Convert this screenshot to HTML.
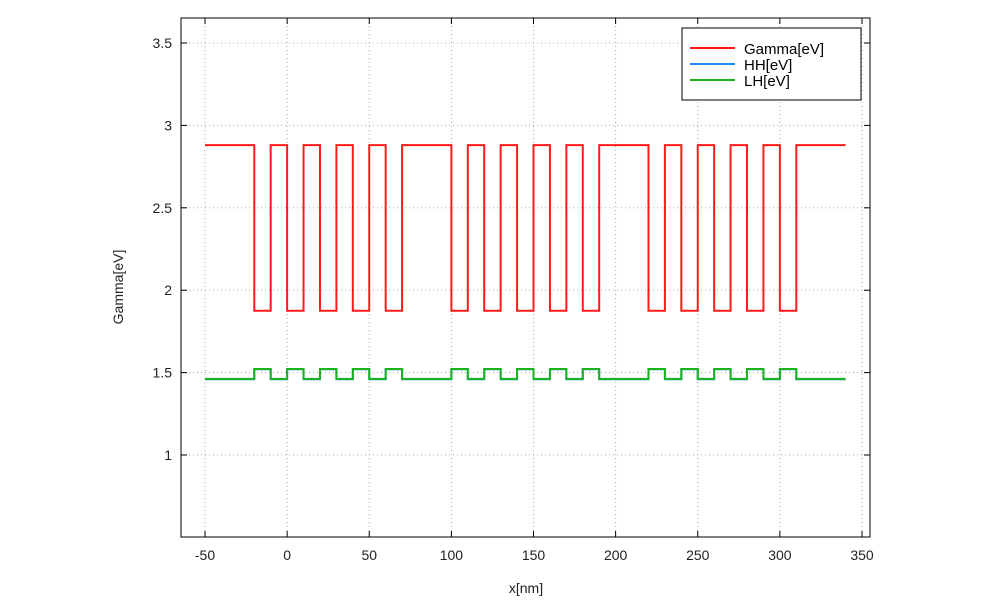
<!DOCTYPE html>
<html><head><meta charset="utf-8"><style>body{margin:0;background:#fff}svg text{font-family:"Liberation Sans",sans-serif}</style></head>
<body>
<svg id="chart" width="1000" height="600" xmlns="http://www.w3.org/2000/svg">
<g id="grid"></g>
<g id="series"></g>
<rect x="181" y="18" width="689" height="519" fill="none" stroke="#000" stroke-width="1"/>
<g id="ticks"></g>
<text x="526" y="593" font-size="14" text-anchor="middle" fill="#222">x[nm]</text>
<text transform="translate(123,287) rotate(-90)" font-size="14" text-anchor="middle" fill="#222">Gamma[eV]</text>
<g>
<rect x="682" y="28" width="179" height="72" fill="#fff" stroke="#000"/>
<line x1="690" x2="735" y1="48" y2="48" stroke="#ff1a1a" stroke-width="2"/>
<text x="744" y="54" font-size="15">Gamma[eV]</text>
<line x1="690" x2="735" y1="64" y2="64" stroke="#1a8cff" stroke-width="2"/>
<text x="744" y="70" font-size="15">HH[eV]</text>
<line x1="690" x2="735" y1="80" y2="80" stroke="#1ab31a" stroke-width="2"/>
<text x="744" y="86" font-size="15">LH[eV]</text>
</g>
</svg>
<script>
const xTicks=[-50,0,50,100,150,200,250,300,350];
const yTicks=[1,1.5,2,2.5,3,3.5];
const yTickLabels=["1","1.5","2","2.5","3","3.5"];
// well boundaries (nm): each pair is [start,end] of a well
const wells=[[-20,-10],[0,10],[20,30],[40,50],[60,70],[100,110],[120,130],[140,150],[160,170],[180,190],[220,230],[240,250],[260,270],[280,290],[300,310]];
const xStart=-50, xEnd=340;
const gammaBarrier=2.88, gammaWell=1.875;
const hhBarrier=1.46, hhWell=1.52;
const lhBarrier=1.462, lhWell=1.522;
const X=v=>205+(v+50)*657/400;
const Y=v=>455-(v-1)*164.8;
const NS="http://www.w3.org/2000/svg";
function mk(tag,attrs,parent,txt){const e=document.createElementNS(NS,tag);for(const k in attrs)e.setAttribute(k,attrs[k]);if(txt!==undefined)e.textContent=txt;parent.appendChild(e);return e;}
const grid=document.getElementById('grid'),ticks=document.getElementById('ticks'),series=document.getElementById('series');
xTicks.forEach(t=>{const x=X(t);
 const g=mk('line',{x1:x,x2:x,y1:18,y2:537,stroke:'#aaa','stroke-dasharray':'1,3'},grid);
 
 
 [[537,531],[18,24]].forEach(p=>{const l=mk('line',{x1:x,x2:x,y1:p[0],y2:p[1],stroke:'#000'},ticks);
 
 });
 const tx=mk('text',{x:x,y:560,'font-size':14,'text-anchor':'middle',fill:'#222'},ticks,String(t));
 
 
});
yTicks.forEach((t,i)=>{const y=Y(t);
 const g=mk('line',{x1:181,x2:870,y1:y,y2:y,stroke:'#aaa','stroke-dasharray':'1,3'},grid);
 
 
 [[181,187],[870,864]].forEach(p=>{const l=mk('line',{x1:p[0],x2:p[1],y1:y,y2:y,stroke:'#000'},ticks);
 
 });
 const tx=mk('text',{x:172,y:y+5,'font-size':14,'text-anchor':'end',fill:'#222'},ticks,yTickLabels[i]);
 
 
});
function profile(b,w){let d='M'+X(xStart)+','+Y(b);wells.forEach(p=>{d+=' L'+X(p[0])+','+Y(b)+' L'+X(p[0])+','+Y(w)+' L'+X(p[1])+','+Y(w)+' L'+X(p[1])+','+Y(b);});d+=' L'+X(xEnd)+','+Y(b);return d;}
[['gamma-line',gammaBarrier,gammaWell,'#ff1a1a'],['hh-line',hhBarrier,hhWell,'#1a8cff'],['lh-line',lhBarrier,lhWell,'#1ab31a']].forEach(s=>{
 const p=mk('path',{d:profile(s[1],s[2]),fill:'none',stroke:s[3],'stroke-width':2},series);
 
 
});
</script>
</body></html>
